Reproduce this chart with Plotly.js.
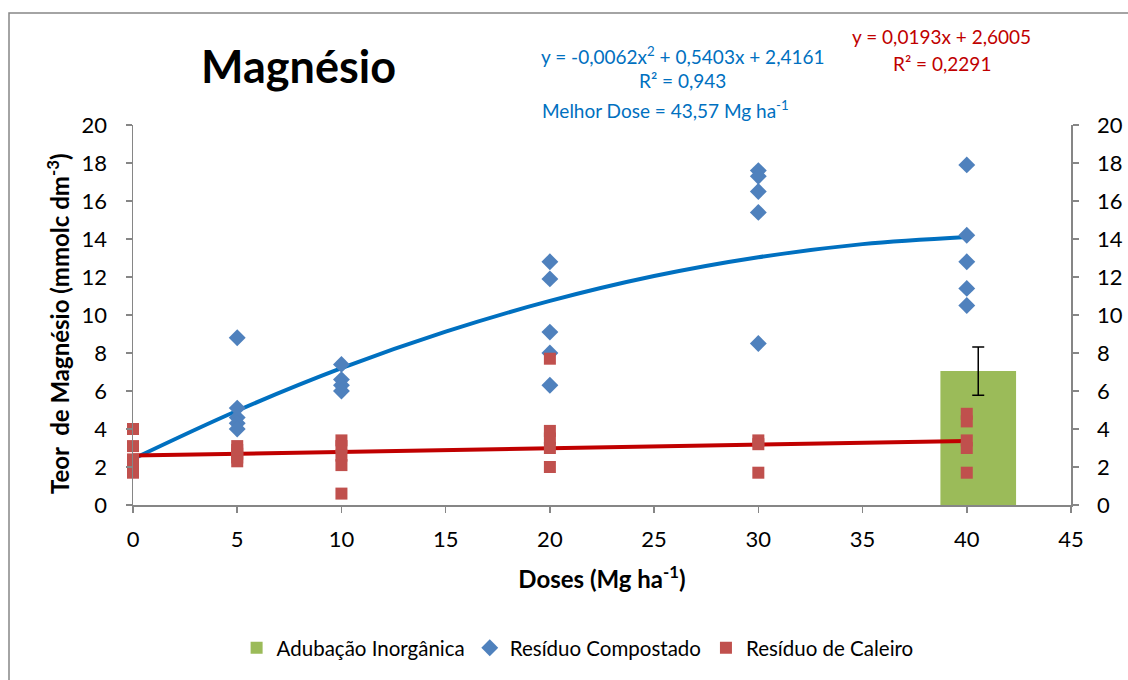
<!DOCTYPE html>
<html>
<head>
<meta charset="utf-8">
<script src="https://cdn.plot.ly/plotly-3.0.1.min.js"></script>
<style>
html,body{margin:0;padding:0;background:#fff;}
#chart{width:1128px;height:680px;}
</style>
</head>
<body>
<div id="chart"></div>
<script>
// ---- Data ----
var compostX = [5, 5, 5, 5, 5, 10, 10, 10, 10, 20, 20, 20, 20, 20, 30, 30, 30, 30, 30, 40, 40, 40, 40, 40];
var compostY = [8.8, 5.1, 4.6, 4.3, 4.0, 7.4, 6.6, 6.3, 6.0, 12.8, 11.9, 9.1, 8.0, 6.3, 17.6, 17.3, 16.5, 15.4, 8.5, 17.9, 14.2, 12.8, 11.4, 10.5];

var caleiroX = [0, 0, 0, 0, 0, 5, 5, 5, 5, 5, 10, 10, 10, 10, 10, 20, 20, 20, 20, 20, 30, 30, 30, 40, 40, 40, 40, 40];
var caleiroY = [4.0, 3.1, 2.4, 2.0, 1.7, 3.1, 2.9, 2.7, 2.5, 2.3, 3.4, 3.1, 2.6, 2.1, 0.6, 7.7, 3.9, 3.5, 3.0, 2.0, 3.4, 3.2, 1.7, 4.8, 4.4, 3.4, 3.0, 1.7];

var inorgX = [40.55];
var inorgY = [7.05];
var inorgErr = [1.27];

// trend curves
var compostTrendX = [0, 5, 10, 15, 20, 25, 30, 35, 40];
var compostTrendY = [2.42, 4.96, 7.20, 9.12, 10.74, 12.05, 13.04, 13.73, 14.11];
var caleiroTrendX = [0, 40];
var caleiroTrendY = [2.60, 3.37];

var xTicks = [0, 5, 10, 15, 20, 25, 30, 35, 40, 45];
var yTicks = [0, 2, 4, 6, 8, 10, 12, 14, 16, 18, 20];

var FONT = 'Lato, "Open Sans", sans-serif';

var traces = [
  {
    type: 'bar', name: 'Adubação Inorgânica',
    x: inorgX, y: inorgY, width: [3.63],
    marker: {color: '#9BBB59'},
    error_y: {type: 'data', array: inorgErr, visible: true, color: '#000', thickness: 1.5, width: 6},
    hoverinfo: 'skip'
  },
  {
    type: 'scatter', mode: 'lines', x: compostTrendX, y: compostTrendY, cliponaxis: false,
    line: {color: '#0070C0', width: 4, shape: 'spline'}, showlegend: false, hoverinfo: 'skip'
  },
  {
    type: 'scatter', mode: 'lines', x: caleiroTrendX, y: caleiroTrendY, cliponaxis: false,
    line: {color: '#C00000', width: 4}, showlegend: false, hoverinfo: 'skip'
  },
  {
    type: 'scatter', mode: 'markers', name: 'Resíduo Compostado', cliponaxis: false,
    x: compostX, y: compostY,
    marker: {symbol: 'diamond', size: 13, color: '#4F81BD'}
  },
  {
    type: 'scatter', mode: 'markers', name: 'Resíduo de Caleiro', cliponaxis: false,
    x: caleiroX, y: caleiroY,
    marker: {symbol: 'square', size: 12, color: '#C0504D'}
  },
  {
    type: 'scatter', mode: 'markers', x: [0], y: [0], yaxis: 'y2',
    marker: {opacity: 0}, showlegend: false, hoverinfo: 'skip'
  }
];

var axisCommon = {
  showgrid: false, zeroline: false, showline: true, linecolor: '#868686', linewidth: 1.5,
  ticks: 'outside', ticklen: 6, tickcolor: '#868686', tickwidth: 1.5,
  tickfont: {family: FONT, size: 22, color: '#000'}
};

var layout = {
  width: 1128, height: 680,
  paper_bgcolor: '#fff', plot_bgcolor: '#fff',
  margin: {l: 133, r: 57, t: 125, b: 175},
  barmode: 'overlay',
  font: {family: FONT, color: '#000'},
  xaxis: Object.assign({}, axisCommon, {
    range: [0, 45], tickvals: xTicks, ticktext: xTicks.map(String), ticklabelstandoff: 8,
    title: {text: '<b>Doses (Mg ha<sup>-1</sup>)</b>', font: {family: FONT, size: 24}, standoff: 20}
  }),
  yaxis: Object.assign({}, axisCommon, {
    range: [0, 20], tickvals: yTicks, ticktext: yTicks.map(String), ticklabelstandoff: 14
  }),
  yaxis2: Object.assign({}, axisCommon, {
    range: [0, 20], tickvals: yTicks, ticktext: yTicks.map(String), ticklabelstandoff: 14,
    overlaying: 'y', side: 'right'
  }),
  showlegend: true,
  legend: {
    orientation: 'h', x: 0.474, xanchor: 'center', y: -0.376, yanchor: 'middle',
    font: {family: FONT, size: 20.5, color: '#000'}, itemclick: false, traceorder: 'normal'
  },
  annotations: [
    {xref: 'paper', yref: 'paper', x: 0.176, y: 1.155, xanchor: 'center', yanchor: 'middle',
     text: '<b>Magnésio</b>', showarrow: false, font: {family: FONT, size: 45, color: '#000'}},
    {xref: 'paper', yref: 'paper', x: (58 - 133) / 938, y: (505 - 324) / 380, xanchor: 'center', yanchor: 'middle',
     textangle: -90, text: '<b>Teor  de Magnésio (mmolc dm<sup>-3</sup>)</b>', showarrow: false,
     font: {family: FONT, size: 24, color: '#000'}},
    {xref: 'paper', yref: 'paper', x: 0.586, y: 1.184, xanchor: 'center', yanchor: 'middle',
     text: 'y = -0,0062x<sup>2</sup> + 0,5403x + 2,4161', showarrow: false, font: {family: FONT, size: 19, color: '#0070C0'}},
    {xref: 'paper', yref: 'paper', x: 0.586, y: 1.118, xanchor: 'center', yanchor: 'middle',
     text: 'R² = 0,943', showarrow: false, font: {family: FONT, size: 19, color: '#0070C0'}},
    {xref: 'paper', yref: 'paper', x: 0.434, y: 1.04, xanchor: 'left', yanchor: 'middle',
     text: 'Melhor Dose = 43,57 Mg ha<sup>-1</sup>', showarrow: false, font: {family: FONT, size: 19, color: '#0070C0'}},
    {xref: 'paper', yref: 'paper', x: 0.862, y: 1.232, xanchor: 'center', yanchor: 'middle',
     text: 'y = 0,0193x + 2,6005', showarrow: false, font: {family: FONT, size: 19, color: '#C00000'}},
    {xref: 'paper', yref: 'paper', x: 0.862, y: 1.163, xanchor: 'center', yanchor: 'middle',
     text: 'R² = 0,2291', showarrow: false, font: {family: FONT, size: 19, color: '#C00000'}}
  ],
  shapes: [
    {type: 'rect', xref: 'paper', yref: 'paper', x0: 0, x1: 1, y0: 0, y1: 1,
     line: {color: '#868686', width: 1.5}, fillcolor: 'rgba(0,0,0,0)', layer: 'below'}
  ]
};

// outer chart-area border (pixels: left 9, top 13, running past right/bottom edges)
var pw = 1128 - 133 - 57, ph = 680 - 125 - 175;
layout.shapes[0].x0 = (9 - 133) / pw;
layout.shapes[0].x1 = (1130 - 133) / pw;
layout.shapes[0].y1 = (505 - 13) / ph;
layout.shapes[0].y0 = (505 - 690) / ph;

Plotly.newPlot('chart', traces, layout, {displayModeBar: false, staticPlot: true});
</script>
</body>
</html>
